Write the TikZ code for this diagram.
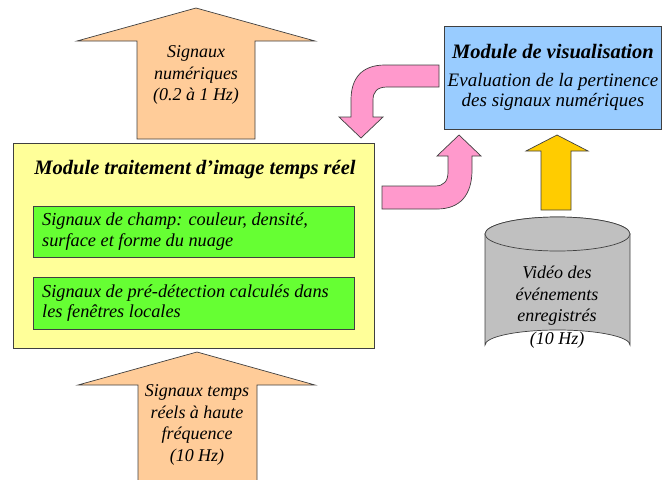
\documentclass[tikz,border=0pt]{standalone}
\usepackage{fontspec}
\setmainfont{Liberation Serif}
\usetikzlibrary{shapes.geometric}
\definecolor{peach}{HTML}{FFCC99}
\definecolor{pinkA}{HTML}{FF99CC}
\definecolor{gold}{HTML}{FFCC00}
\definecolor{skyb}{HTML}{99CCFF}
\definecolor{paley}{HTML}{FFFF99}
\definecolor{lgreen}{HTML}{66FF33}
\definecolor{cylg}{HTML}{C0C0C0}
\definecolor{edge}{HTML}{404040}
\tikzset{
  shp/.style={draw=edge, line width=0.7pt, line join=miter},
  txt/.style={align=center, font=\fontsize{18}{21.5}\selectfont\itshape, text=black, inner sep=0pt},
  btxt/.style={align=center, font=\fontsize{19}{20.5}\selectfont\itshape, text=black, inner sep=0pt},
  ttl/.style={font=\fontsize{20.5}{22}\selectfont\bfseries\itshape, text=black, inner sep=0pt},
  gtxt/.style={align=left, font=\fontsize{18.3}{20.5}\selectfont\itshape, text=black, inner sep=0pt, anchor=west},
}
\begin{document}
\begin{tikzpicture}[x=1pt,y=-1pt]
\useasboundingbox (0,0) rectangle (663,479);
% top arrow
\draw[shp, fill=peach] (137,139) -- (137,41) -- (77,41) -- (196,8) -- (315,41) -- (255,41) -- (255,139) -- cycle;
\node[txt] (outsig) at (196,75) {Signaux\\numériques\\(0.2 à 1 Hz)};
% bottom arrow
\draw[shp, fill=peach] (138,480) -- (138,385) -- (78,385) -- (197,352) -- (315,385) -- (257,385) -- (257,480);
\node[txt] (insig) at (197,425) {Signaux temps\\réels à haute\\fréquence\\(10 Hz)};
% yellow module
\draw[shp, fill=paley] (13,143) rectangle (374,348);
\node[ttl] (mtitle) at (195,170) {Module traitement d’image temps réel};
\draw[shp, fill=lgreen] (33,206) rectangle (354,257);
\node[gtxt] (g1) at (42,231.5) {Signaux de champ: couleur, densité,\\surface et forme du nuage};
\draw[shp, fill=lgreen] (33,277) rectangle (354,329);
\node[gtxt] (g2) at (42,303) {Signaux de pré-détection calculés dans\\les fenêtres locales};
% blue module
\draw[shp, fill=skyb] (444,26) rectangle (661,129);
\node[ttl] (vtitle) at (553,52) {Module de visualisation};
\node[btxt] (vtext) at (553,92) {Evaluation de la pertinence\\des signaux numériques};
% pink arrow from blue to yellow
\draw[shp, fill=pinkA] (439,65) -- (385,65) .. controls (362,65) and (351,78) .. (351,100) -- (351,117) -- (339,117) -- (361,138) -- (383,117) -- (373,117) -- (373,100) .. controls (373,92) and (377,87) .. (387,87) -- (439,87) -- cycle;
% pink arrow from yellow to blue
\draw[shp, fill=pinkA] (382,186) -- (435,186) .. controls (444,186) and (448,181) .. (448,172) -- (448,156) -- (437,156) -- (459,135) -- (481,156) -- (472,156) -- (472,170) .. controls (472,195) and (460,209) .. (437,209) -- (382,209) -- cycle;
% yellow arrow
\draw[shp, fill=gold] (541,210) -- (541,151) -- (526,151) -- (557,135) -- (588,151) -- (571,151) -- (571,210) -- cycle;
% cylinder
\draw[shp, fill=cylg] (485,234) -- (485,345) arc[start angle=180, end angle=360, x radius=72.5, y radius=15] -- (630,234) arc[start angle=0, end angle=-180, x radius=72.5, y radius=17] -- cycle;
\draw[shp, fill=cylg] (557.5,234) ellipse[x radius=72.5, y radius=17];
\node[txt] (video) at (557,307) {Vidéo des\\événements\\enregistrés\\[1pt](10 Hz)};
\end{tikzpicture}
\end{document}
